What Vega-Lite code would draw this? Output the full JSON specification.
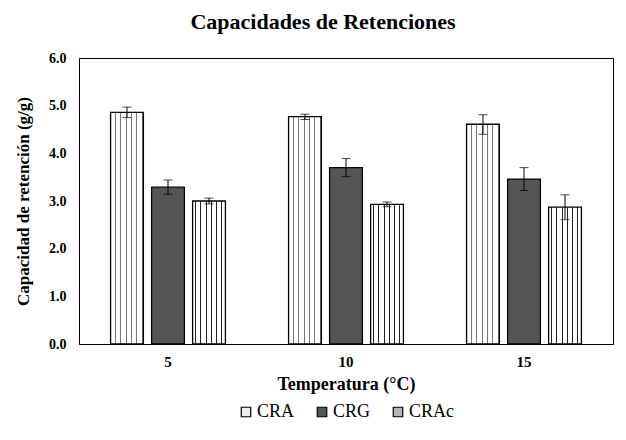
{
  "$schema": "https://vega.github.io/schema/vega-lite/v6.json",
  "width": 534,
  "height": 286,
  "autosize": {"type": "none"},
  "padding": {"left": 79, "top": 58, "right": 13, "bottom": 96},
  "background": "white",
  "title": {
    "text": "Capacidades de Retenciones",
    "font": "Liberation Serif",
    "fontSize": 22,
    "fontWeight": "bold",
    "color": "black",
    "anchor": "middle",
    "dx": -23,
    "offset": 17
  },
  "config": {
    "view": {"stroke": "black", "strokeWidth": 1},
    "font": "Liberation Serif",
    "axis": {"labelFont": "Liberation Serif", "titleFont": "Liberation Serif"},
    "legend": {"labelFont": "Liberation Serif", "titleFont": "Liberation Serif"}
  },
  "data": {
    "values": [
      {"temp": "5", "serie": "CRA", "value": 4.86, "lo": 4.75, "hi": 4.97},
      {"temp": "5", "serie": "CRG", "value": 3.29, "lo": 3.14, "hi": 3.44},
      {"temp": "5", "serie": "CRAc", "value": 3.0, "lo": 2.94, "hi": 3.06},
      {"temp": "10", "serie": "CRA", "value": 4.77, "lo": 4.71, "hi": 4.82},
      {"temp": "10", "serie": "CRG", "value": 3.70, "lo": 3.51, "hi": 3.89},
      {"temp": "10", "serie": "CRAc", "value": 2.93, "lo": 2.88, "hi": 2.98},
      {"temp": "15", "serie": "CRA", "value": 4.61, "lo": 4.40, "hi": 4.81},
      {"temp": "15", "serie": "CRG", "value": 3.46, "lo": 3.22, "hi": 3.70},
      {"temp": "15", "serie": "CRAc", "value": 2.87, "lo": 2.61, "hi": 3.13}
    ]
  },
  "encoding": {
    "x": {
      "field": "temp",
      "type": "nominal",
      "sort": ["5", "10", "15"],
      "scale": {"paddingInner": 0, "paddingOuter": 0},
      "axis": {
        "title": "Temperatura (°C)",
        "titleFont": "Liberation Serif",
        "titleFontSize": 18,
        "titleFontWeight": "bold",
        "titleColor": "black",
        "titlePadding": 6,
        "labelFont": "Liberation Serif",
        "labelFontSize": 15,
        "labelFontWeight": "bold",
        "labelColor": "black",
        "labelAngle": 0,
        "labelPadding": 10,
        "ticks": false,
        "domainColor": "black"
      }
    },
    "xOffset": {
      "field": "serie",
      "type": "nominal",
      "sort": ["CRA", "CRG", "CRAc"],
      "scale": {"paddingInner": 0.2, "paddingOuter": 0.77}
    }
  },
  "layer": [
    {
      "mark": {"type": "bar", "strokeWidth": 1.3, "stroke": "black"},
      "encoding": {
        "y": {
          "field": "value",
          "type": "quantitative",
          "scale": {"domain": [0, 6], "nice": false},
          "axis": {
            "title": "Capacidad de retención (g/g)",
            "titleFont": "Liberation Serif",
            "titleFontSize": 17,
            "titleFontWeight": "bold",
            "titleColor": "black",
            "titlePadding": 16,
            "labelFont": "Liberation Serif",
            "labelFontSize": 14,
            "labelFontWeight": "bold",
            "labelColor": "black",
            "labelPadding": 13,
            "values": [0, 1, 2, 3, 4, 5, 6],
            "format": ".1f",
            "ticks": false,
            "grid": false,
            "domainColor": "black"
          }
        },
        "fill": {
          "condition": [
            {"test": "datum.serie === 'CRA'", "value": {"gradient": "linear", "x1": 0, "y1": 0, "x2": 1, "y2": 0, "stops": [
              {"offset": 0, "color": "#ffffff"},
              {"offset": 0.135, "color": "#ffffff"}, {"offset": 0.135, "color": "#777777"}, {"offset": 0.165, "color": "#777777"}, {"offset": 0.165, "color": "#ffffff"},
              {"offset": 0.295, "color": "#ffffff"}, {"offset": 0.295, "color": "#777777"}, {"offset": 0.325, "color": "#777777"}, {"offset": 0.325, "color": "#ffffff"},
              {"offset": 0.465, "color": "#ffffff"}, {"offset": 0.465, "color": "#777777"}, {"offset": 0.495, "color": "#777777"}, {"offset": 0.495, "color": "#ffffff"},
              {"offset": 0.625, "color": "#ffffff"}, {"offset": 0.625, "color": "#777777"}, {"offset": 0.655, "color": "#777777"}, {"offset": 0.655, "color": "#ffffff"},
              {"offset": 0.785, "color": "#ffffff"}, {"offset": 0.785, "color": "#777777"}, {"offset": 0.815, "color": "#777777"}, {"offset": 0.815, "color": "#ffffff"},
              {"offset": 0.945, "color": "#ffffff"}, {"offset": 0.945, "color": "#777777"}, {"offset": 0.975, "color": "#777777"}, {"offset": 0.975, "color": "#ffffff"},
              {"offset": 1, "color": "#ffffff"}
            ]}},
            {"test": "datum.serie === 'CRAc'", "value": {"gradient": "linear", "x1": 0, "y1": 0, "x2": 1, "y2": 0, "stops": [
              {"offset": 0, "color": "#ffffff"},
              {"offset": 0.085, "color": "#ffffff"}, {"offset": 0.085, "color": "#222222"}, {"offset": 0.115, "color": "#222222"}, {"offset": 0.115, "color": "#ffffff"},
              {"offset": 0.235, "color": "#ffffff"}, {"offset": 0.235, "color": "#222222"}, {"offset": 0.265, "color": "#222222"}, {"offset": 0.265, "color": "#ffffff"},
              {"offset": 0.405, "color": "#ffffff"}, {"offset": 0.405, "color": "#222222"}, {"offset": 0.435, "color": "#222222"}, {"offset": 0.435, "color": "#ffffff"},
              {"offset": 0.555, "color": "#ffffff"}, {"offset": 0.555, "color": "#222222"}, {"offset": 0.585, "color": "#222222"}, {"offset": 0.585, "color": "#ffffff"},
              {"offset": 0.725, "color": "#ffffff"}, {"offset": 0.725, "color": "#222222"}, {"offset": 0.755, "color": "#222222"}, {"offset": 0.755, "color": "#ffffff"},
              {"offset": 0.865, "color": "#ffffff"}, {"offset": 0.865, "color": "#222222"}, {"offset": 0.895, "color": "#222222"}, {"offset": 0.895, "color": "#ffffff"},
              {"offset": 1, "color": "#ffffff"}
            ]}}
          ],
          "value": "#555555"
        }
      }
    },
    {
      "mark": {"type": "rule", "color": "black", "strokeWidth": 1},
      "encoding": {
        "y": {"field": "lo", "type": "quantitative"},
        "y2": {"field": "hi"}
      }
    },
    {
      "mark": {"type": "tick", "color": "black", "size": 9, "thickness": 1},
      "encoding": {"y": {"field": "lo", "type": "quantitative"}}
    },
    {
      "mark": {"type": "tick", "color": "black", "size": 9, "thickness": 1},
      "encoding": {"y": {"field": "hi", "type": "quantitative"}}
    },
    {
      "mark": {"type": "point", "filled": true, "opacity": 0},
      "encoding": {
        "y": {"field": "value", "type": "quantitative"},
        "fill": {
          "field": "serie",
          "type": "nominal",
          "sort": ["CRA", "CRG", "CRAc"],
          "scale": {"domain": ["CRA", "CRG", "CRAc"], "range": ["#eeeeee", "#555555", "#b5b5b5"]},
          "legend": {
            "title": null,
            "orient": "none",
            "legendX": 158,
            "legendY": 345,
            "direction": "horizontal",
            "symbolType": "square",
            "symbolSize": 90,
            "symbolStrokeColor": "black",
            "symbolStrokeWidth": 1.2,
            "symbolOpacity": 1,
            "labelFont": "Liberation Serif",
            "labelFontSize": 18,
            "labelColor": "black",
            "labelOffset": 2,
            "columnPadding": 18
          }
        }
      }
    }
  ]
}
